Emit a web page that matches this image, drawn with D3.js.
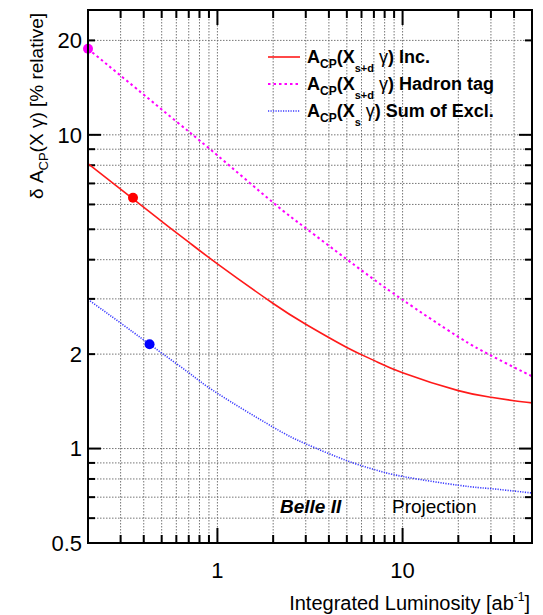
<!DOCTYPE html>
<html>
<head>
<meta charset="utf-8">
<script src="https://cdn.jsdelivr.net/npm/d3@7"></script>
<style>
body { margin: 0; background: #fff; }
text { font-family: "Liberation Sans", Arial, Helvetica, sans-serif; }
</style>
</head>
<body>
<svg id="chart" width="543" height="615"></svg>
<script>
// integrated luminosity (ab^-1) and projected relative uncertainties (%)
const lumi      = [0.2, 0.35, 0.5, 0.7, 1, 2, 3, 5, 7, 10, 20, 30, 40, 50];
const inclusive = [8.1, 6.25, 5.30, 4.55, 3.88, 2.90, 2.49, 2.10, 1.91, 1.745, 1.53, 1.457, 1.42, 1.398];
const hadronTag = [18.8, 14.33, 12.05, 10.24, 8.6, 6.08, 5.04, 4.01, 3.46, 2.98, 2.27, 1.98, 1.815, 1.70];
const sumExcl   = [2.99, 2.351, 2.015, 1.745, 1.50, 1.17, 1.035, 0.915, 0.858, 0.815, 0.764, 0.745, 0.732, 0.722];

// current measurements (Belle)
const markerLumi  = [0.2, 0.35, 0.43];
const markerValue = [18.8, 6.3, 2.15];
const markerColor = ['#ff00ff', '#ff0000', '#0000ff'];

const xTickLabels = [1, 10];
const yTickLabels = [0.5, 1, 2, 10, 20];

const margin = {left: 88, right: 11, top: 10, bottom: 72};
const W = 543, H = 615;

const svg = d3.select('#chart');

const x = d3.scaleLog().domain([0.2, 50]).range([margin.left, W - margin.right]);
const y = d3.scaleLog().domain([0.5, 25]).range([H - margin.bottom, margin.top]);

const x0 = x.range()[0], x1 = x.range()[1];
const y0 = y.range()[0], y1 = y.range()[1];

// grid
const grid = svg.append('g')
    .attr('stroke', '#666')
    .attr('stroke-width', 0.9)
    .attr('stroke-dasharray', '1.5,1.5');

x.ticks().forEach(t => {
    if (x(t) <= x0 + 1 || x(t) >= x1 - 1) return;
    grid.append('line')
        .attr('x1', x(t)).attr('x2', x(t))
        .attr('y1', y1).attr('y2', y0);
});
y.ticks().forEach(t => {
    if (y(t) >= y0 - 1 || y(t) <= y1 + 1) return;
    grid.append('line')
        .attr('x1', x0).attr('x2', x1)
        .attr('y1', y(t)).attr('y2', y(t));
});

// ticks on all four sides, pointing inward
const isMajor = t => Math.abs(Math.log10(t) - Math.round(Math.log10(t))) < 1e-6;
const ticks = svg.append('g').attr('stroke', '#000').attr('stroke-width', 2);
x.ticks().forEach(t => {
    const len = isMajor(t) ? 15 : 8;
    ticks.append('line').attr('x1', x(t)).attr('x2', x(t)).attr('y1', y0).attr('y2', y0 - len);
    ticks.append('line').attr('x1', x(t)).attr('x2', x(t)).attr('y1', y1).attr('y2', y1 + len);
});
y.ticks().forEach(t => {
    const len = isMajor(t) ? 13 : 7;
    ticks.append('line').attr('x1', x0).attr('x2', x0 + len).attr('y1', y(t)).attr('y2', y(t));
    ticks.append('line').attr('x1', x1).attr('x2', x1 - len).attr('y1', y(t)).attr('y2', y(t));
});

// curves
const series = [
    {values: hadronTag, color: '#ff00ff', width: 2, dash: '2.5,3'},
    {values: inclusive, color: '#ff1a1a', width: 1.6, dash: null},
    {values: sumExcl,   color: '#3a3aff', width: 1.6, dash: '1.2,1.3'}
];

const line = d3.line()
    .x(d => x(d[0]))
    .y(d => y(d[1]))
    .curve(d3.curveNatural);

series.forEach(s => {
    svg.append('path')
        .datum(lumi.map((l, i) => [l, s.values[i]]))
        .attr('d', line)
        .attr('fill', 'none')
        .attr('stroke', s.color)
        .attr('stroke-width', s.width)
        .attr('stroke-dasharray', s.dash);
});

// markers
svg.selectAll('circle.marker')
    .data(markerLumi.map((l, i) => ({l: l, v: markerValue[i], c: markerColor[i]})))
    .join('circle')
    .attr('class', 'marker')
    .attr('cx', d => x(d.l))
    .attr('cy', d => y(d.v))
    .attr('r', 5)
    .attr('fill', d => d.c);

// frame
svg.append('rect')
    .attr('x', x0).attr('y', y1)
    .attr('width', x1 - x0).attr('height', y0 - y1)
    .attr('fill', 'none')
    .attr('stroke', '#000')
    .attr('stroke-width', 2);

// tick labels
svg.selectAll('text.xlab')
    .data(xTickLabels)
    .join('text')
    .attr('class', 'xlab')
    .attr('x', d => x(d))
    .attr('y', 578)
    .attr('text-anchor', 'middle')
    .attr('font-size', 22)
    .text(d => d);

svg.selectAll('text.ylab')
    .data(yTickLabels)
    .join('text')
    .attr('class', 'ylab')
    .attr('x', 82)
    .attr('y', d => y(d))
    .attr('dy', '0.36em')
    .attr('text-anchor', 'end')
    .attr('font-size', 22)
    .text(d => d);

// axis titles
const xt = svg.append('text')
    .attr('x', 530).attr('y', 610)
    .attr('text-anchor', 'end')
    .attr('font-size', 20);
xt.append('tspan').text('Integrated Luminosity [ab');
xt.append('tspan').attr('font-size', 12).attr('dy', -9).text('-1');
xt.append('tspan').attr('dy', 9).text(']');

const yt = svg.append('text')
    .attr('transform', 'translate(43,13) rotate(-90)')
    .attr('text-anchor', 'end')
    .attr('font-size', 19);
yt.append('tspan').text('δ A');
yt.append('tspan').attr('font-size', 13).attr('dy', 5).text('CP');
yt.append('tspan').attr('dy', -5).text('(X γ) [% relative]');

// legend
const legendRows = [
    {color: '#ff1a1a', width: 1.6, dash: null,      sub: 's+d', tail: ') Inc.'},
    {color: '#ff00ff', width: 2,   dash: '2.5,3',   sub: 's+d', tail: ') Hadron tag'},
    {color: '#3a3aff', width: 1.6, dash: '1.2,1.3', sub: 's',   tail: ') Sum of Excl.'}
];
const legend = svg.append('g');
legendRows.forEach((r, i) => {
    const ly = 57 + i * 27;
    legend.append('line')
        .attr('x1', 268).attr('x2', 300)
        .attr('y1', ly).attr('y2', ly)
        .attr('stroke', r.color)
        .attr('stroke-width', r.width)
        .attr('stroke-dasharray', r.dash);
    const t = legend.append('text')
        .attr('x', 307).attr('y', ly + 6)
        .attr('font-size', 18)
        .attr('font-weight', 'bold');
    t.append('tspan').text('A');
    t.append('tspan').attr('font-size', 12).attr('dy', 5).text('CP');
    t.append('tspan').attr('dy', -5).text('(X');
    t.append('tspan').attr('font-size', 11).attr('dy', 9).text(r.sub);
    t.append('tspan').attr('dy', -9).attr('font-weight', 'normal').text(' γ');
    t.append('tspan').text(r.tail);
});

// labels
svg.append('text')
    .attr('x', 280).attr('y', 513)
    .attr('font-size', 19)
    .attr('font-weight', 'bold')
    .attr('font-style', 'italic')
    .text('Belle II');
svg.append('text')
    .attr('x', 392).attr('y', 513)
    .attr('font-size', 19)
    .text('Projection');
</script>
</body>
</html>
